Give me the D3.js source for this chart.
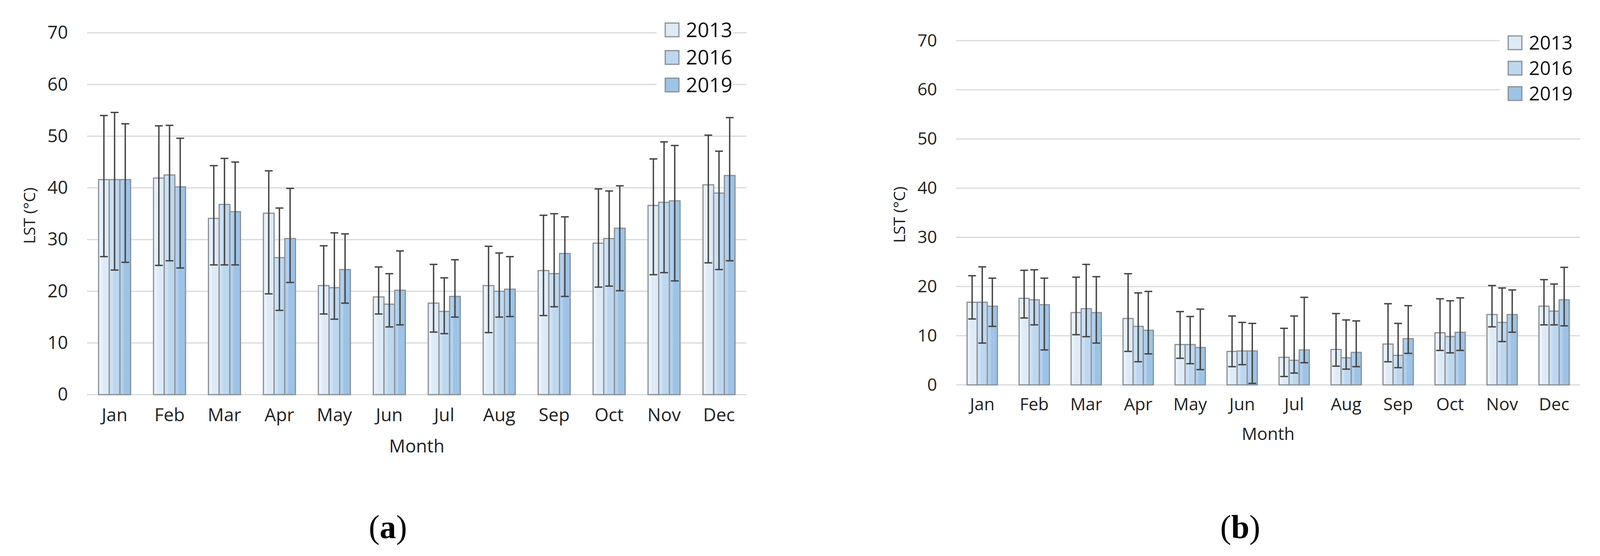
<!DOCTYPE html>
<html>
<head>
<meta charset="utf-8">
<script src="https://cdn.jsdelivr.net/npm/d3@7"></script>
<style>
  body { margin: 0; background: #fff; }
  svg { display: block; }
</style>
</head>
<body>
<svg id="chart" width="4117" height="1423"></svg>
<script>
// Mois et années
const months = ["Jan", "Feb", "Mar", "Apr", "May", "Jun", "Jul", "Aug", "Sep", "Oct", "Nov", "Dec"];
const years = ["2013", "2016", "2019"];
const yTicks = [0, 10, 20, 30, 40, 50, 60, 70];

// Panneau (a) : moyenne, borne basse et haute des barres d'erreur (une ligne par année)
const meanA = [
  [41.6, 41.9, 34.1, 35.1, 21.1, 18.9, 17.7, 21.1, 24.0, 29.3, 36.6, 40.6],
  [41.6, 42.5, 36.8, 26.5, 20.7, 17.5, 16.1, 20.0, 23.4, 30.2, 37.2, 39.0],
  [41.6, 40.2, 35.4, 30.2, 24.2, 20.2, 19.0, 20.4, 27.3, 32.2, 37.5, 42.4]
];
const lowA = [
  [26.7, 25.0, 25.1, 19.5, 15.6, 15.6, 12.1, 12.0, 15.3, 20.8, 23.2, 25.5],
  [24.1, 25.9, 25.1, 16.3, 14.6, 13.1, 11.8, 15.0, 17.0, 21.0, 23.6, 24.2],
  [25.6, 24.5, 25.1, 21.7, 17.7, 13.5, 15.0, 15.1, 19.0, 20.1, 22.0, 25.9]
];
const highA = [
  [54.0, 52.0, 44.3, 43.3, 28.8, 24.7, 25.2, 28.7, 34.7, 39.8, 45.6, 50.2],
  [54.6, 52.1, 45.7, 36.1, 31.3, 23.4, 22.6, 27.4, 35.0, 39.4, 48.9, 47.1],
  [52.4, 49.6, 45.0, 39.9, 31.1, 27.8, 26.1, 26.7, 34.4, 40.4, 48.2, 53.6]
];

// Panneau (b)
const meanB = [
  [16.8, 17.6, 14.7, 13.5, 8.2, 6.8, 5.6, 7.2, 8.3, 10.6, 14.3, 16.0],
  [16.8, 17.3, 15.5, 11.9, 8.2, 6.9, 5.0, 5.5, 6.0, 9.8, 12.7, 15.0],
  [16.0, 16.3, 14.7, 11.1, 7.6, 6.9, 7.1, 6.6, 9.4, 10.7, 14.3, 17.3]
];
const lowB = [
  [13.4, 13.6, 10.2, 6.8, 5.4, 3.7, 1.7, 3.8, 4.7, 7.0, 11.8, 12.2],
  [8.5, 12.2, 9.8, 4.7, 4.3, 4.1, 2.4, 3.2, 3.5, 6.5, 8.8, 12.2],
  [11.9, 7.1, 8.5, 6.3, 3.1, 0.3, 4.5, 3.7, 6.4, 7.0, 10.7, 12.0]
];
const highB = [
  [22.2, 23.3, 21.9, 22.6, 14.9, 14.0, 11.5, 14.5, 16.5, 17.5, 20.2, 21.4],
  [24.0, 23.4, 24.5, 18.7, 13.9, 12.7, 14.0, 13.2, 12.5, 17.1, 19.7, 20.5],
  [21.7, 21.7, 22.0, 19.0, 15.4, 12.5, 17.8, 13.0, 16.1, 17.7, 19.3, 23.9]
];

const fills = ["#deebf7", "#bdd7ee", "#9dc3e6"];
const lights = ["#e9f1fa", "#cde1f3", "#b2d0ec"];

const svg = d3.select("#chart");
const defs = svg.append("defs");

// Dégradé léger sur chaque barre (effet Excel)
years.forEach((y, i) => {
  const g = defs.append("linearGradient")
      .attr("id", "grad" + i)
      .attr("x1", "0%").attr("x2", "100%")
      .attr("y1", "0%").attr("y2", "0%");
  g.append("stop").attr("offset", "0%").attr("stop-color", lights[i]);
  g.append("stop").attr("offset", "30%").attr("stop-color", lights[i]);
  g.append("stop").attr("offset", "38%").attr("stop-color", fills[i]);
  g.append("stop").attr("offset", "100%").attr("stop-color", fills[i]);
});

function drawPanel(p) {
  const means = p.means, lows = p.lows, highs = p.highs;

  const x = d3.scaleBand()
      .domain(months)
      .range([p.left, p.right])
      .paddingInner(0.417)
      .paddingOuter(0.2085);

  const xs = d3.scaleBand()
      .domain(years)
      .range([0, x.bandwidth()]);

  const y = d3.scaleLinear()
      .domain([0, 70])
      .range([p.bottom, p.top]);

  const g = svg.append("g");

  // Grille horizontale
  g.selectAll(".grid")
    .data(yTicks)
    .enter().append("line")
      .attr("x1", p.left)
      .attr("x2", p.right)
      .attr("y1", d => y(d))
      .attr("y2", d => y(d))
      .attr("stroke", "#d9d9d9")
      .attr("stroke-width", 3);

  // Étiquettes de l'axe Y
  const yAxis = g.append("g")
      .attr("transform", `translate(${p.left - 49},0)`)
      .call(d3.axisLeft(y).tickValues(yTicks).tickSize(0).tickPadding(0));
  yAxis.select(".domain").remove();
  yAxis.selectAll("text")
      .attr("font-family", "Open Sans")
      .attr("font-size", p.tickSize)
      .attr("fill", "#222");

  // Étiquettes de l'axe X
  const xAxis = g.append("g")
      .attr("transform", `translate(0,${p.bottom})`)
      .call(d3.axisBottom(x).tickSize(0).tickPadding(0));
  xAxis.select(".domain").remove();
  xAxis.selectAll("text")
      .attr("dy", null)
      .attr("y", p.monthY - p.bottom)
      .attr("font-family", "Open Sans")
      .attr("font-size", p.tickSize)
      .attr("fill", "#222");

  // Barres
  years.forEach((yr, i) => {
    g.selectAll(".bar" + i)
      .data(months)
      .enter().append("rect")
        .attr("x", m => x(m) + xs(yr))
        .attr("y", (m, j) => y(means[i][j]))
        .attr("width", xs.bandwidth())
        .attr("height", (m, j) => y(0) - y(means[i][j]))
        .attr("fill", `url(#grad${i})`)
        .attr("stroke", "#8a9098")
        .attr("stroke-width", 3);
  });

  // Barres d'erreur
  years.forEach((yr, i) => {
    const eb = g.selectAll(".err" + i)
      .data(months)
      .enter().append("g")
        .attr("transform", m => `translate(${x(m) + xs(yr) + xs.bandwidth() / 2},0)`);
    eb.append("line")
        .attr("y1", (m, j) => y(lows[i][j]))
        .attr("y2", (m, j) => y(highs[i][j]))
        .attr("stroke", "#444")
        .attr("stroke-width", 3.5);
    [lows, highs].forEach(arr => {
      eb.append("line")
          .attr("x1", -10).attr("x2", 10)
          .attr("y1", (m, j) => y(arr[i][j]))
          .attr("y2", (m, j) => y(arr[i][j]))
          .attr("stroke", "#444")
          .attr("stroke-width", 3.5);
    });
  });

  // Titres des axes
  g.append("text")
      .attr("transform", `translate(${p.yTitleX},${(p.top + p.bottom) / 2 + 5}) rotate(-90)`)
      .attr("text-anchor", "middle")
      .attr("dominant-baseline", "middle")
      .attr("font-family", "Open Sans")
      .attr("font-size", 41)
      .attr("fill", "#222")
      .text("LST (°C)");

  g.append("text")
      .attr("x", (p.left + p.right) / 2)
      .attr("y", p.titleY)
      .attr("text-anchor", "middle")
      .attr("font-family", "Open Sans")
      .attr("font-size", p.titleSize)
      .attr("fill", "#222")
      .text("Month");

  // Légende
  const leg = g.append("g");
  leg.append("rect")
      .attr("x", p.legX - 22)
      .attr("y", p.legY - 35)
      .attr("width", p.legW)
      .attr("height", p.legStep * 3)
      .attr("fill", "#fff");
  years.forEach((yr, i) => {
    const cy = p.legY + i * p.legStep;
    leg.append("rect")
        .attr("x", p.legX)
        .attr("y", cy - 17)
        .attr("width", 35)
        .attr("height", 35)
        .attr("fill", fills[i])
        .attr("stroke", "#8a9098")
        .attr("stroke-width", 3);
    leg.append("text")
        .attr("x", p.legX + 53)
        .attr("y", cy)
        .attr("dy", "0.36em")
        .attr("font-family", "Open Sans")
        .attr("font-size", p.legSize)
        .attr("fill", "#111")
        .text(yr);
  });

  // Étiquette du panneau
  const lab = svg.append("text")
      .attr("x", p.labelX)
      .attr("y", 1377)
      .attr("text-anchor", "middle")
      .attr("font-family", "Liberation Serif")
      .attr("font-size", 84)
      .attr("fill", "#000");
  lab.append("tspan").text("(");
  lab.append("tspan").attr("font-weight", "bold").text(p.label);
  lab.append("tspan").text(")");
}

drawPanel({
  means: meanA, lows: lowA, highs: highA,
  left: 223, right: 1911, top: 84, bottom: 1010,
  tickSize: 46, monthY: 1078, titleY: 1158, titleSize: 46, yTitleX: 79,
  legX: 1703, legY: 76, legStep: 70.5, legW: 195, legSize: 52,
  labelX: 993, label: "a"
});

drawPanel({
  means: meanB, lows: lowB, highs: highB,
  left: 2448, right: 4045, top: 104, bottom: 985,
  tickSize: 44, monthY: 1050, titleY: 1126, titleSize: 44, yTitleX: 2306,
  legX: 3861, legY: 109, legStep: 65, legW: 230, legSize: 49,
  labelX: 3175, label: "b"
});
</script>
</body>
</html>
